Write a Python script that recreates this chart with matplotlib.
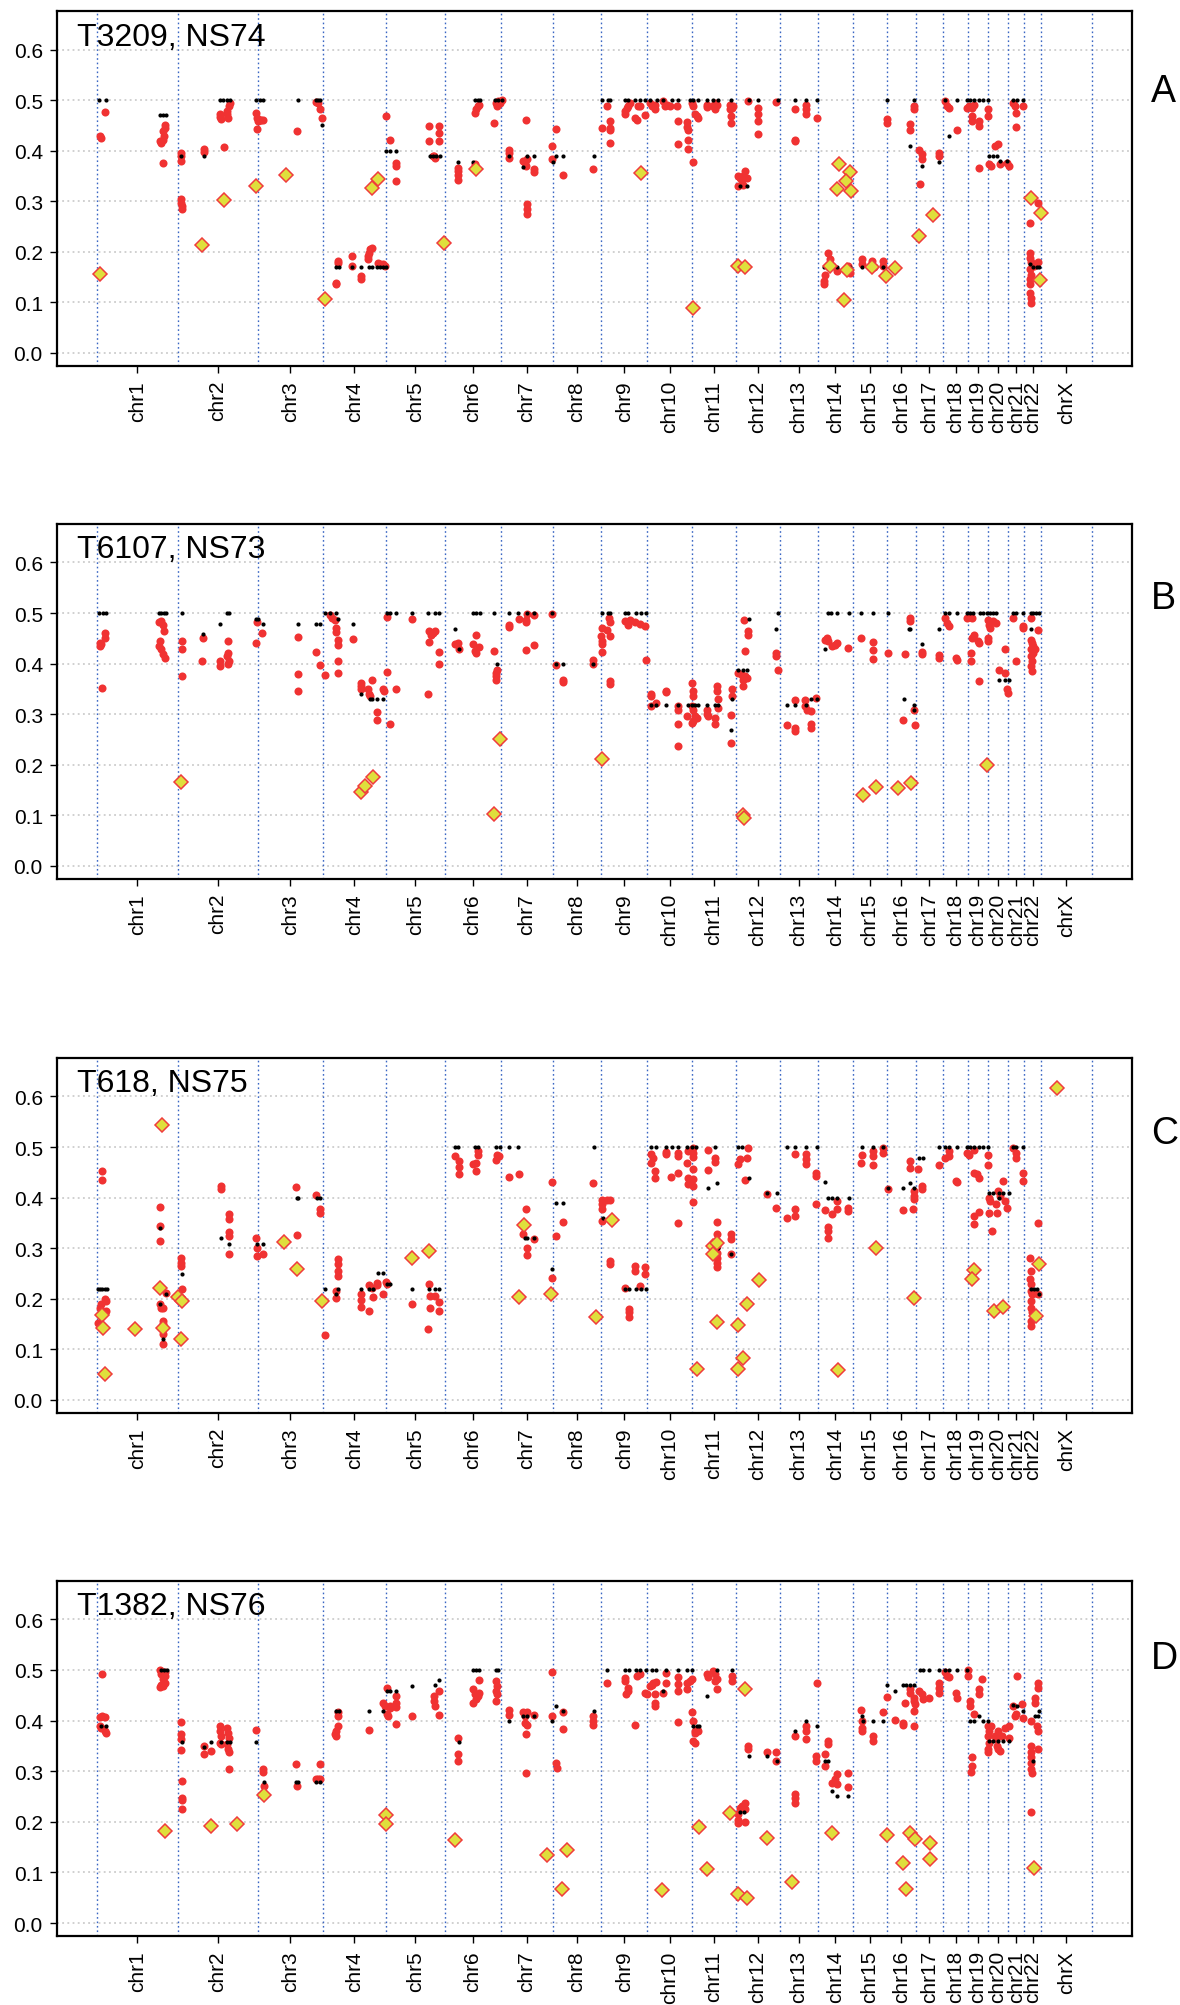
import numpy as np
import matplotlib
matplotlib.use("Agg")
import matplotlib.pyplot as plt

plt.rcParams["font.family"] = ["Liberation Sans", "DejaVu Sans"]

# hg19 chromosome lengths (Mb)
CHROMS = ["chr1", "chr2", "chr3", "chr4", "chr5", "chr6", "chr7", "chr8", "chr9",
          "chr10", "chr11", "chr12", "chr13", "chr14", "chr15", "chr16", "chr17",
          "chr18", "chr19", "chr20", "chr21", "chr22", "chrX"]
CHROM_LEN = [249.25, 243.2, 198.0, 191.15, 180.9, 171.1, 159.1, 146.4, 141.2,
             135.5, 135.0, 133.85, 115.2, 107.3, 102.5, 90.35, 81.2, 78.1, 59.1,
             63.0, 48.1, 51.3, 155.3]

PANEL_TITLES = ["T3209, NS74", "T6107, NS73", "T618, NS75", "T1382, NS76"]
PANEL_TAGS = ["A", "B", "C", "D"]
Y_TICKS = [0.0, 0.1, 0.2, 0.3, 0.4, 0.5, 0.6]

# ---- Panel A: (genome position Mb, allele fraction) ----
A_red = [(13,0.425),(10,0.43),(26,0.477),
 (193,0.419),(198,0.416),(203,0.422),(205,0.429),(203,0.439),(208,0.445),(210,0.45),(203,0.375),
 (257,0.396),(257,0.389),(257,0.379),(259,0.304),(259,0.297),(262,0.29),(262,0.285),
 (327,0.404),(327,0.397),
 (376,0.472),(378,0.467),(381,0.463),(397,0.478),(399,0.472),(402,0.465),(405,0.488),(407,0.495),(388,0.407),
 (486,0.474),(490,0.465),(493,0.458),(498,0.461),(503,0.461),(508,0.46),(490,0.443),
 (613,0.439),(671,0.496),(676,0.495),(681,0.482),(688,0.465),
 (729,0.139),(729,0.136),(737,0.182),(737,0.178),(778,0.192),(778,0.172),(806,0.152),(806,0.147),
 (829,0.192),(832,0.198),(834,0.205),(839,0.208),(829,0.186),(859,0.178),(864,0.175),(875,0.175),(880,0.172),
 (882,0.468),(895,0.422),(913,0.375),(913,0.37),(913,0.341),
 (1015,0.449),(1015,0.419),(1046,0.449),(1046,0.435),(1046,0.419),(1029,0.389),(1032,0.386),(1025,0.389),
 (1104,0.366),(1104,0.36),(1104,0.353),(1104,0.342),(1154,0.373),
 (1154,0.475),(1159,0.482),(1164,0.488),(1168,0.491),
 (1213,0.455),(1218,0.495),(1222,0.488),(1226,0.498),(1231,0.495),(1236,0.501),
 (1258,0.402),(1258,0.396),(1258,0.386),(1310,0.46),(1302,0.379),(1307,0.376),(1312,0.383),(1310,0.37),
 (1312,0.294),(1312,0.284),(1312,0.274),(1335,0.363),(1335,0.358),
 (1388,0.409),(1388,0.384),(1403,0.443),(1424,0.353),(1515,0.363),
 (1541,0.445),(1556,0.489),(1566,0.458),(1566,0.445),(1566,0.442),(1566,0.416),(1612,0.478),(1612,0.472),
 (1617,0.485),(1622,0.488),(1627,0.495),(1642,0.465),(1648,0.46),(1653,0.488),(1658,0.488),(1674,0.47),
 (1688,0.495),(1693,0.488),(1703,0.491),(1703,0.482),(1729,0.498),(1734,0.488),(1739,0.491),(1749,0.488),
 (1770,0.488),(1775,0.459),(1775,0.414),(1800,0.457),(1800,0.448),(1805,0.441),(1805,0.421),(1805,0.404),(1820,0.378),
 (1815,0.495),(1820,0.488),(1826,0.472),(1831,0.468),(1836,0.465),(1861,0.491),(1861,0.487),(1881,0.488),
 (1887,0.482),(1887,0.495),(1892,0.491),(1932,0.491),(1932,0.482),(1934,0.468),(1934,0.455),(1937,0.485),(1942,0.488),
 (1958,0.35),(1963,0.346),(1968,0.343),(1973,0.35),(1978,0.36),(1983,0.346),(1958,0.33),(1973,0.333),
 (1988,0.498),(2019,0.485),(2019,0.472),(2019,0.458),(2019,0.433),(2073,0.496),
 (2131,0.482),(2131,0.422),(2131,0.419),(2164,0.491),(2164,0.482),(2164,0.472),(2197,0.465),
 (2220,0.142),(2220,0.136),(2222,0.155),(2232,0.198),(2238,0.185),(2243,0.172),(2258,0.162),(2293,0.172),(2299,0.159),
 (2334,0.185),(2334,0.175),(2365,0.182),(2370,0.169),(2400,0.182),(2400,0.172),
 (2412,0.462),(2412,0.454),(2482,0.452),(2482,0.442),(2492,0.488),(2492,0.483),
 (2510,0.402),(2517,0.393),(2517,0.384),(2512,0.335),(2571,0.395),(2571,0.389),
 (2588,0.498),(2594,0.488),(2599,0.485),(2624,0.442),
 (2655,0.485),(2660,0.488),(2670,0.485),(2675,0.491),(2670,0.468),(2670,0.458),(2693,0.458),(2693,0.449),
 (2718,0.482),(2718,0.468),(2693,0.366),
 (2721,0.373),(2728,0.37),(2741,0.409),(2751,0.414),(2756,0.373),(2777,0.376),(2782,0.37),
 (2795,0.495),(2802,0.488),(2805,0.475),(2805,0.447),(2825,0.488),
 (2848,0.258),(2848,0.198),(2848,0.188),(2850,0.179),(2848,0.165),(2850,0.155),(2848,0.146),(2848,0.136),
 (2848,0.119),(2850,0.109),(2850,0.099),(2860,0.172),(2873,0.297),(2873,0.179)]

A_black = [(8,0.5),(28,0.5),(193,0.47),(203,0.47),(211,0.47),(259,0.39),(327,0.39),
 (376,0.5),(386,0.5),(397,0.5),(407,0.5),(486,0.5),(498,0.5),(508,0.5),(615,0.5),(671,0.5),(676,0.5),(681,0.5),(688,0.45),
 (729,0.17),(739,0.17),(778,0.17),(808,0.17),(832,0.17),(839,0.17),(856,0.17),(864,0.17),(875,0.17),(882,0.17),
 (883,0.4),(895,0.4),(913,0.4),
 (1017,0.39),(1027,0.39),(1037,0.39),(1048,0.39),(1104,0.378),(1149,0.378),(1154,0.5),(1164,0.5),(1170,0.5),
 (1215,0.5),(1226,0.5),(1236,0.5),(1258,0.389),(1312,0.389),(1335,0.389),(1302,0.368),(1391,0.378),(1403,0.389),
 (1424,0.389),(1517,0.389),(1541,0.5),(1561,0.5),(1566,0.5),(1612,0.5),(1622,0.5),(1642,0.5),(1658,0.5),(1673,0.5),
 (1688,0.5),(1709,0.5),(1729,0.5),(1754,0.5),(1775,0.5),(1810,0.5),(1820,0.5),(1836,0.5),(1861,0.5),(1881,0.5),
 (1897,0.5),(1935,0.5),(1963,0.33),(1985,0.33),(1991,0.5),(2019,0.5),(2080,0.5),
 (2131,0.5),(2164,0.5),(2197,0.5),(2220,0.17),(2243,0.17),(2258,0.17),(2297,0.17),(2334,0.17),(2370,0.17),(2400,0.17),
 (2412,0.5),(2482,0.409),(2492,0.5),(2517,0.37),(2571,0.378),(2588,0.5),(2624,0.5),(2599,0.429),
 (2655,0.5),(2665,0.5),(2675,0.5),(2692,0.5),(2705,0.5),(2718,0.5),(2721,0.389),(2736,0.389),(2746,0.389),
 (2756,0.379),(2777,0.379),(2797,0.5),(2807,0.5),(2827,0.5),(2848,0.175),(2858,0.17),(2868,0.17),(2876,0.17)]

A_diamond = [(11,0.157),(323,0.214),(389,0.302),(485,0.331),(578,0.353),(697,0.106),(839,0.326),(859,0.345),
 (1059,0.217),(1157,0.364),(1660,0.355),(1820,0.088),(1958,0.171),(1978,0.17),
 (2266,0.374),(2299,0.358),(2285,0.34),(2258,0.325),(2302,0.32),(2238,0.172),(2288,0.164),(2280,0.105),
 (2365,0.169),(2408,0.153),(2436,0.167),(2509,0.231),(2550,0.272),(2851,0.306),(2881,0.277),(2878,0.144)]

# ---- Panel B ----
B_red = [(10,0.441),(12,0.434),(15,0.438),(25,0.461),(25,0.451),(18,0.351),
 (191,0.482),(198,0.485),(203,0.477),(205,0.464),(191,0.434),(198,0.428),(203,0.418),(208,0.411),(193,0.444),
 (261,0.444),(261,0.429),(261,0.375),(325,0.451),(323,0.406),(376,0.405),(376,0.396),(402,0.444),(402,0.421),
 (402,0.4),(397,0.414),(405,0.405),
 (491,0.482),(506,0.461),(486,0.441),(615,0.452),(615,0.38),(615,0.345),(671,0.423),(681,0.398),(697,0.377),
 (712,0.497),(717,0.49),(727,0.487),(730,0.47),(730,0.462),(737,0.447),(737,0.436),(737,0.405),(737,0.382),(783,0.449),
 (806,0.362),(806,0.355),(806,0.349),(829,0.349),(832,0.34),(839,0.368),(834,0.336),(857,0.304),(857,0.289),
 (875,0.35),(878,0.345),(885,0.383),(895,0.281),(913,0.35),(885,0.493),
 (961,0.488),(1015,0.464),(1019,0.457),(1025,0.461),(1032,0.464),(1015,0.442),(1046,0.422),(1046,0.4),(1012,0.34),
 (1093,0.439),(1103,0.441),(1106,0.428),
 (1157,0.457),(1149,0.439),(1154,0.424),(1159,0.42),(1168,0.433),(1213,0.424),(1222,0.388),(1218,0.382),(1218,0.375),(1218,0.368),
 (1259,0.477),(1259,0.472),(1288,0.488),(1310,0.487),(1310,0.482),(1312,0.499),(1335,0.497),(1310,0.426),(1334,0.436),
 (1388,0.499),(1403,0.398),(1424,0.368),(1424,0.363),(1515,0.407),(1515,0.4),
 (1564,0.49),(1566,0.482),(1541,0.47),(1539,0.454),(1541,0.444),(1541,0.438),(1541,0.422),(1556,0.467),(1566,0.455),
 (1566,0.366),(1566,0.359),(1612,0.484),(1622,0.477),(1627,0.487),(1642,0.482),(1658,0.478),(1673,0.474),(1676,0.408),
 (1690,0.34),(1690,0.336),(1690,0.316),(1706,0.322),(1737,0.345),(1737,0.343),(1775,0.316),(1775,0.309),(1775,0.28),
 (1775,0.237),(1800,0.296),(1815,0.362),(1820,0.345),(1820,0.336),
 (1815,0.316),(1820,0.309),(1826,0.296),(1818,0.286),(1815,0.283),(1833,0.293),(1861,0.309),(1861,0.301),(1866,0.296),
 (1887,0.293),(1887,0.28),(1892,0.355),(1892,0.345),(1897,0.329),(1897,0.313),(1937,0.349),(1937,0.336),(1934,0.299),(1934,0.243),
 (1958,0.382),(1968,0.378),(1973,0.368),(1978,0.375),(1983,0.372),(1973,0.355),(1975,0.487),(1978,0.424),(1988,0.464),
 (1988,0.457),(2072,0.421),(2072,0.414),(2080,0.388),
 (2105,0.278),(2131,0.273),(2131,0.266),(2179,0.28),(2179,0.273),(2131,0.328),(2161,0.328),(2161,0.316),(2166,0.309),
 (2179,0.306),(2195,0.332),
 (2222,0.447),(2227,0.451),(2232,0.444),(2243,0.434),(2253,0.437),(2258,0.441),(2293,0.431),(2332,0.451),(2368,0.442),
 (2368,0.426),(2368,0.409),(2413,0.42),
 (2467,0.418),(2461,0.288),(2482,0.49),(2482,0.484),(2494,0.309),(2497,0.278),
 (2517,0.422),(2517,0.418),(2571,0.416),(2571,0.411),
 (2588,0.49),(2594,0.48),(2599,0.475),(2622,0.411),(2624,0.408),
 (2655,0.49),(2665,0.493),(2670,0.451),(2675,0.457),(2690,0.444),(2693,0.441),(2667,0.42),(2667,0.405),(2692,0.365),(2670,0.49),
 (2718,0.487),(2721,0.477),(2726,0.47),(2736,0.484),(2744,0.48),(2718,0.451),(2718,0.444),(2754,0.388),(2771,0.382),
 (2777,0.349),(2780,0.342),(2771,0.429),(2804,0.405),
 (2797,0.49),(2825,0.474),(2825,0.47),
 (2850,0.49),(2850,0.447),(2853,0.441),(2858,0.434),(2850,0.428),(2856,0.421),(2850,0.414),(2853,0.405),(2850,0.395),
 (2853,0.385),(2873,0.466),(2863,0.428)]

B_black = [(8,0.5),(20,0.5),(28,0.5),(191,0.5),(198,0.5),(205,0.5),(213,0.5),(261,0.5),(325,0.459),(376,0.478),
 (398,0.5),(405,0.5),(486,0.488),(493,0.488),(508,0.478),(615,0.478),(671,0.478),(683,0.478),(697,0.5),(712,0.5),
 (730,0.5),(737,0.488),(783,0.478),(806,0.339),(834,0.329),(839,0.329),(857,0.329),(875,0.329),(885,0.5),(895,0.5),
 (915,0.5),(961,0.5),
 (1012,0.5),(1032,0.5),(1046,0.5),(1093,0.468),(1106,0.428),(1149,0.5),(1159,0.5),(1170,0.5),(1213,0.5),(1222,0.399),
 (1259,0.5),(1287,0.5),(1312,0.5),(1335,0.5),(1388,0.5),(1403,0.399),(1424,0.399),(1515,0.399),(1541,0.5),(1561,0.5),
 (1566,0.5),(1612,0.5),(1622,0.5),(1645,0.5),(1661,0.5),(1675,0.5),(1690,0.319),(1706,0.319),(1737,0.319),(1775,0.319),
 (1803,0.319),(1815,0.319),(1826,0.319),(1836,0.319),(1861,0.319),(1887,0.319),(1897,0.319),(1937,0.329),(1934,0.268),
 (1958,0.388),(1973,0.388),(1983,0.388),(1990,0.488),(2072,0.468),(2080,0.5),(2105,0.319),
 (2131,0.319),(2164,0.319),(2180,0.329),(2197,0.329),(2232,0.5),(2240,0.5),(2258,0.5),(2296,0.5),(2332,0.5),(2368,0.5),
 (2413,0.5),(2222,0.429),(2463,0.329),(2477,0.468),(2482,0.468),(2492,0.319),(2495,0.309),(2519,0.439),(2571,0.468),
 (2588,0.5),(2599,0.5),(2624,0.5),(2655,0.5),(2665,0.5),(2673,0.5),(2695,0.5),(2705,0.5),(2716,0.5),(2726,0.5),
 (2736,0.5),(2744,0.5),(2754,0.368),(2771,0.368),(2782,0.368),(2797,0.5),(2805,0.5),(2827,0.5),(2850,0.5),(2858,0.5),
 (2866,0.5),(2876,0.5),(2850,0.468)]

B_diamond = [(259,0.166),(808,0.146),(820,0.158),(844,0.176),(1212,0.103),(1232,0.251),(1541,0.212),(1973,0.1),
 (1975,0.094),(2337,0.14),(2378,0.155),(2444,0.153),(2485,0.164),(2717,0.199)]

# ---- Panel C ----
C_red = [(18,0.453),(18,0.434),(10,0.182),(15,0.189),(25,0.199),(28,0.196),(30,0.176),(5,0.151),
 (193,0.382),(193,0.344),(193,0.314),(193,0.189),(198,0.182),(203,0.182),(203,0.156),(203,0.15),(203,0.13),(203,0.111),(211,0.212),
 (259,0.281),(259,0.271),(259,0.265),(262,0.219),(381,0.423),(381,0.416),(405,0.367),(405,0.357),(405,0.331),(405,0.324),(405,0.289),
 (486,0.321),(490,0.3),(490,0.285),(508,0.288),(607,0.42),(613,0.326),(671,0.405),(681,0.377),(681,0.37),
 (697,0.128),(730,0.215),(730,0.202),(737,0.278),(737,0.268),(737,0.255),(737,0.245),
 (806,0.209),(806,0.197),(806,0.184),(831,0.227),(831,0.176),(839,0.222),(842,0.204),(856,0.232),(856,0.227),(875,0.21),
 (883,0.234),(887,0.229),(961,0.19),
 (1015,0.229),(1017,0.206),(1032,0.206),(1017,0.182),(1046,0.193),(1046,0.176),(1012,0.14),
 (1093,0.482),(1105,0.472),(1105,0.46),(1105,0.446),(1149,0.467),(1159,0.469),(1157,0.453),(1164,0.492),(1164,0.484),
 (1218,0.475),(1222,0.485),(1229,0.482),(1259,0.44),(1288,0.446),
 (1310,0.377),(1302,0.327),(1312,0.301),(1312,0.286),(1334,0.318),
 (1388,0.431),(1388,0.24),(1403,0.324),(1424,0.352),(1515,0.428),
 (1541,0.395),(1541,0.387),(1541,0.377),(1546,0.393),(1556,0.395),(1566,0.395),(1541,0.354),(1566,0.275),(1566,0.268),
 (1612,0.221),(1624,0.179),(1624,0.174),(1624,0.164),(1642,0.265),(1642,0.255),(1658,0.225),(1674,0.262),(1674,0.248),
 (1690,0.486),(1698,0.479),(1690,0.469),(1703,0.453),(1703,0.439),(1737,0.49),(1737,0.487),(1775,0.489),(1775,0.483),
 (1752,0.44),(1775,0.449),(1775,0.35),(1800,0.469),(1805,0.492),
 (1820,0.499),(1820,0.489),(1820,0.48),(1820,0.456),(1805,0.439),(1820,0.436),(1805,0.426),(1820,0.423),(1820,0.391),
 (1864,0.495),(1864,0.454),(1887,0.479),(1887,0.471),
 (1892,0.352),(1892,0.327),(1892,0.314),(1892,0.304),(1894,0.291),(1894,0.281),(1894,0.271),(1894,0.262),
 (1935,0.327),(1935,0.318),(1935,0.288),
 (1988,0.499),(1983,0.479),(1958,0.466),(1963,0.476),(1978,0.434),(2046,0.408),(2072,0.38),(2105,0.359),
 (2131,0.486),(2164,0.486),(2164,0.476),(2164,0.466),(2195,0.449),(2195,0.443),(2195,0.387),(2131,0.377),(2131,0.364),
 (2222,0.375),(2243,0.367),(2258,0.393),(2258,0.377),(2232,0.342),(2232,0.334),(2232,0.321),(2293,0.38),(2293,0.373),
 (2334,0.484),(2332,0.469),(2368,0.492),(2368,0.482),(2368,0.464),(2400,0.499),(2400,0.489),(2413,0.416),
 (2461,0.375),(2482,0.472),(2482,0.459),(2492,0.413),(2492,0.403),(2492,0.397),(2490,0.378),(2507,0.457),
 (2517,0.423),(2517,0.416),(2571,0.464),
 (2588,0.478),(2599,0.492),(2599,0.482),(2622,0.433),(2624,0.43),
 (2655,0.489),(2660,0.485),(2675,0.494),(2675,0.449),(2685,0.446),(2693,0.439),(2675,0.364),(2675,0.347),(2693,0.371),
 (2718,0.485),(2718,0.465),
 (2721,0.399),(2726,0.393),(2744,0.388),(2751,0.413),(2756,0.403),(2766,0.433),(2771,0.393),(2777,0.38),(2721,0.37),
 (2746,0.37),(2731,0.333),
 (2797,0.499),(2805,0.489),(2805,0.479),(2825,0.449),(2825,0.432),
 (2848,0.281),(2850,0.255),(2848,0.238),(2850,0.229),(2850,0.215),(2853,0.209),(2863,0.212),(2873,0.209),(2850,0.196),
 (2850,0.182),(2853,0.173),(2850,0.156),(2850,0.146),(2873,0.35)]

C_black = [(5,0.22),(12,0.22),(18,0.22),(25,0.22),(32,0.22),(195,0.339),(195,0.19),(203,0.15),(203,0.12),(211,0.209),
 (262,0.248),(381,0.32),(405,0.309),(488,0.309),(508,0.309),(610,0.399),(615,0.399),(674,0.399),(683,0.399),(697,0.22),
 (730,0.209),(737,0.22),(808,0.22),(832,0.22),(842,0.22),(859,0.25),(875,0.25),(885,0.23),(895,0.23),(961,0.22),
 (1015,0.22),(1032,0.22),(1046,0.22),(1093,0.5),(1103,0.5),(1154,0.5),(1164,0.5),(1220,0.5),(1231,0.5),(1259,0.5),
 (1287,0.5),(1307,0.32),(1314,0.32),(1335,0.32),(1403,0.389),(1424,0.389),(1388,0.258),(1517,0.5),(1544,0.359),
 (1612,0.22),(1624,0.22),(1645,0.22),(1661,0.22),(1675,0.22),(1690,0.5),(1706,0.5),(1737,0.5),(1754,0.5),(1775,0.5),
 (1800,0.5),(1815,0.5),(1828,0.5),(1887,0.5),(1864,0.418),(1892,0.429),(1897,0.3),(1935,0.289),(1958,0.5),(1968,0.5),
 (1991,0.438),(2046,0.409),(2075,0.409),(2105,0.5),
 (2131,0.5),(2164,0.5),(2197,0.5),(2222,0.43),(2232,0.4),(2243,0.4),(2258,0.4),(2296,0.4),(2334,0.5),(2368,0.5),
 (2400,0.5),(2413,0.418),(2461,0.418),(2482,0.429),(2492,0.418),(2510,0.479),(2520,0.479),(2571,0.5),(2588,0.5),
 (2599,0.5),(2624,0.5),(2655,0.5),(2665,0.5),(2675,0.5),(2693,0.5),(2705,0.5),(2718,0.5),(2721,0.41),(2736,0.41),
 (2754,0.41),(2766,0.41),(2782,0.41),(2754,0.399),(2797,0.5),(2805,0.5),(2827,0.5),(2850,0.219),(2860,0.219),
 (2870,0.219),(2876,0.209)]

C_diamond = [(18,0.168),(20,0.142),(25,0.051),(117,0.14),(201,0.543),(195,0.222),(203,0.143),(249,0.204),(262,0.196),
 (259,0.121),(573,0.313),(610,0.258),(689,0.196),(961,0.281),
 (1014,0.294),(1304,0.345),(1289,0.204),(1386,0.209),(1523,0.164),(1573,0.355),(1831,0.061),(1881,0.304),(1892,0.31),
 (1881,0.289),(1894,0.153),(1958,0.148),(1985,0.19),(1958,0.061),(1973,0.083),(2021,0.237),
 (2263,0.059),(2377,0.3),(2495,0.202),(2678,0.256),(2670,0.238),(2738,0.176),(2766,0.184),(2875,0.269),(2866,0.166),
 (2929,0.616)]

# ---- Panel D ----
D_red = [(18,0.491),(10,0.406),(18,0.408),(25,0.406),(10,0.389),(25,0.379),(28,0.375),(15,0.386),
 (193,0.5),(198,0.491),(203,0.482),(208,0.488),(208,0.475),(203,0.468),(198,0.471),(193,0.467),(210,0.495),
 (259,0.398),(259,0.373),(259,0.364),(259,0.342),(262,0.28),(262,0.248),(262,0.243),(262,0.225),(327,0.35),(327,0.333),(348,0.339),
 (376,0.389),(378,0.379),(381,0.37),(376,0.356),(381,0.353),(397,0.386),(402,0.376),(405,0.366),(399,0.353),(402,0.343),
 (405,0.337),(405,0.304),
 (486,0.381),(508,0.304),(508,0.298),(510,0.271),(607,0.314),(613,0.271),(669,0.285),(676,0.284),(683,0.285),(681,0.315),
 (727,0.373),(730,0.379),(737,0.389),(737,0.409),(737,0.416),(732,0.37),(831,0.381),
 (875,0.435),(880,0.429),(885,0.412),(890,0.409),(895,0.425),(885,0.465),(895,0.428),(913,0.449),(913,0.434),(913,0.426),(913,0.393),
 (961,0.409),(1029,0.449),(1029,0.439),(1032,0.429),(1046,0.459),(1046,0.41),
 (1104,0.366),(1104,0.333),(1104,0.32),(1147,0.462),(1154,0.452),(1164,0.449),(1149,0.435),(1157,0.442),(1168,0.455),
 (1168,0.48),(1218,0.478),(1222,0.468),(1218,0.458),(1222,0.452),(1218,0.439),
 (1258,0.421),(1258,0.41),(1302,0.416),(1307,0.408),(1312,0.417),(1307,0.396),(1312,0.391),(1310,0.373),(1310,0.296),(1335,0.41),
 (1388,0.496),(1388,0.408),(1403,0.317),(1405,0.307),(1424,0.417),(1424,0.383),(1515,0.409),(1515,0.399),(1515,0.391),
 (1556,0.475),(1612,0.483),(1612,0.478),(1615,0.452),(1622,0.465),(1622,0.459),(1648,0.488),(1658,0.491),(1642,0.391),
 (1673,0.455),(1678,0.452),
 (1688,0.468),(1698,0.475),(1707,0.476),(1693,0.471),(1703,0.452),(1703,0.435),(1703,0.429),(1729,0.455),(1737,0.493),
 (1737,0.475),(1775,0.485),(1775,0.472),(1775,0.459),(1775,0.397),(1800,0.475),(1800,0.462),(1810,0.478),(1815,0.482),
 (1815,0.416),(1820,0.399),(1824,0.379),(1826,0.376),(1820,0.36),(1826,0.356),(1836,0.379),(1831,0.383),(1861,0.491),
 (1866,0.485),(1881,0.498),(1887,0.491),(1892,0.482),(1887,0.478),(1894,0.463),(1937,0.488),(1937,0.478),
 (1958,0.198),(1963,0.228),(1968,0.231),(1978,0.237),(1978,0.225),(1958,0.215),(1978,0.2),(1958,0.204),(1988,0.35),
 (1988,0.343),(2044,0.338),(2073,0.337),(2073,0.32),
 (2131,0.37),(2131,0.254),(2131,0.248),(2131,0.238),(2164,0.389),(2164,0.379),(2164,0.364),(2197,0.474),
 (2195,0.33),(2195,0.32),(2222,0.333),(2222,0.31),(2232,0.36),(2232,0.353),(2243,0.277),(2253,0.284),(2258,0.294),
 (2260,0.274),(2293,0.297),(2293,0.269),
 (2332,0.42),(2334,0.399),(2334,0.386),(2334,0.379),(2368,0.37),(2368,0.36),(2400,0.416),
 (2412,0.447),(2436,0.401),(2461,0.396),(2461,0.391),(2467,0.434),(2482,0.462),(2482,0.455),(2492,0.445),(2492,0.439),
 (2497,0.432),(2492,0.419),(2492,0.389),
 (2510,0.458),(2517,0.452),(2520,0.442),(2538,0.445),(2571,0.474),(2571,0.465),(2571,0.455),
 (2588,0.495),(2594,0.488),(2599,0.485),(2622,0.455),(2624,0.445),
 (2657,0.5),(2657,0.488),(2663,0.439),(2663,0.429),(2670,0.327),(2670,0.31),(2667,0.298),(2693,0.462),(2693,0.452),
 (2700,0.482),(2677,0.412),
 (2718,0.389),(2721,0.379),(2718,0.37),(2721,0.356),(2718,0.343),(2718,0.337),(2728,0.389),(2741,0.37),(2744,0.363),
 (2746,0.35),(2751,0.343),(2756,0.34),(2751,0.379),(2761,0.37),(2771,0.386),(2782,0.389),(2782,0.366),
 (2797,0.429),(2802,0.409),(2805,0.412),(2807,0.488),(2825,0.404),(2822,0.432),
 (2850,0.399),(2850,0.35),(2850,0.337),(2850,0.327),(2850,0.317),(2850,0.304),(2853,0.297),(2863,0.445),(2863,0.435),
 (2868,0.389),(2873,0.379),(2873,0.475),(2873,0.465),(2873,0.343),(2850,0.22)]

D_black = [(13,0.389),(28,0.389),(198,0.5),(205,0.5),(214,0.5),(262,0.358),(327,0.348),(348,0.358),(381,0.358),
 (397,0.358),(407,0.358),(486,0.358),(510,0.279),(608,0.279),(615,0.279),(671,0.279),(683,0.279),(730,0.419),(740,0.419),
 (832,0.419),(875,0.419),(885,0.458),(895,0.458),(913,0.458),(961,0.468),
 (1032,0.47),(1046,0.48),(1107,0.358),(1149,0.5),(1159,0.5),(1168,0.5),(1218,0.5),(1226,0.5),(1259,0.399),(1302,0.409),
 (1312,0.409),(1335,0.409),(1388,0.399),(1403,0.429),(1424,0.419),(1517,0.419),(1558,0.5),(1612,0.5),(1624,0.5),
 (1645,0.5),(1658,0.5),(1675,0.5),(1693,0.5),(1706,0.5),(1737,0.5),(1775,0.5),(1802,0.5),(1815,0.5),(1729,0.458),
 (1820,0.389),(1831,0.389),(1839,0.389),(1894,0.5),(1937,0.5),(1861,0.449),(1963,0.22),(1975,0.22),(1991,0.33),
 (2046,0.33),(2075,0.32),
 (2131,0.379),(2164,0.399),(2197,0.389),(2222,0.32),(2232,0.32),(2243,0.261),(2258,0.25),(2293,0.25),(2334,0.409),
 (2337,0.399),(2368,0.399),(2400,0.399),(2412,0.47),(2436,0.458),(2461,0.47),(2469,0.47),(2482,0.47),(2492,0.47),
 (2512,0.5),(2520,0.5),(2540,0.5),(2571,0.5),(2588,0.5),(2599,0.5),(2624,0.5),(2655,0.5),(2665,0.399),(2675,0.399),
 (2692,0.409),(2705,0.399),(2718,0.399),(2721,0.36),(2736,0.36),(2751,0.36),(2764,0.36),(2782,0.36),(2797,0.43),
 (2807,0.429),(2827,0.419),(2856,0.32),(2863,0.409),(2873,0.409),(2876,0.419)]

D_diamond = [(208,0.182),(349,0.192),(429,0.196),(510,0.253),(883,0.213),(883,0.196),
 (1094,0.165),(1375,0.135),(1434,0.144),(1421,0.067),(1724,0.065),(1837,0.19),(1861,0.106),(1932,0.217),(1958,0.058),
 (1985,0.05),(1978,0.463),(2046,0.169),(2120,0.082),
 (2243,0.177),(2410,0.173),(2459,0.118),(2469,0.067),(2482,0.177),(2497,0.167),(2543,0.159),(2543,0.126),(2860,0.108)]

PANELS = [(A_red, A_black, A_diamond), (B_red, B_black, B_diamond),
          (C_red, C_black, C_diamond), (D_red, D_black, D_diamond)]

# ---- style ----
RED = "#f03232"
DIA_FACE = "#dfdf3c"
DIA_EDGE = "#f03c3c"
VLINE = "#3a66c4"
GRID = "#c4c4c4"

W, H = 1180, 2006
fig = plt.figure(figsize=(W / 100, H / 100), dpi=100)

# axes boxes in pixels: (left, top, right, bottom)
boxes = [(56.7, 12.3, 1131.7, 367.0),
         (56.7, 525.0, 1131.7, 880.0),
         (56.7, 1059.0, 1131.7, 1414.0),
         (56.7, 1581.7, 1131.7, 1937.3)]
tag_baselines = [101.7, 609.3, 1144.3, 1669.3]

bounds = np.concatenate([[0.0], np.cumsum(CHROM_LEN)])
centers = (bounds[:-1] + bounds[1:]) / 2
total = bounds[-1]
pad = 0.04 * total

for i, (red, black, dia) in enumerate(PANELS):
    l, t, r, b = boxes[i]
    ax = fig.add_axes([l / W, 1 - b / H, (r - l) / W, (b - t) / H])

    # grid
    for yv in Y_TICKS:
        ax.axhline(yv, color=GRID, lw=1.1, ls=(0, (1.2, 2.2)), zorder=1)
    for xv in bounds:
        ax.axvline(xv, color=VLINE, lw=1.0, ls=(0, (1.2, 2.0)), zorder=1)

    rx, ry = zip(*red)
    ax.plot(rx, ry, "o", ms=5.8, mfc=RED, mec=RED, mew=0, ls="none", zorder=3)
    bx, by = zip(*black)
    ax.plot(bx, by, "o", ms=3.0, mfc="black", mec="black", mew=0, ls="none", zorder=4)
    dx, dy = zip(*dia)
    ax.plot(dx, dy, "D", ms=7.2, mfc=DIA_FACE, mec=DIA_EDGE, mew=1.1, ls="none", zorder=5)

    ax.set_xlim(-pad, total + pad)
    ax.set_ylim(-0.026, 0.676)
    ax.set_yticks(Y_TICKS)
    ax.set_yticklabels([f"{v:.1f}" for v in Y_TICKS])
    ax.set_xticks(centers)
    ax.set_xticklabels(CHROMS, rotation=90)
    ax.tick_params(axis="both", direction="out", length=5, width=1.0, labelsize=15, pad=5)
    for s in ax.spines.values():
        s.set_linewidth(1.6)

    ax.text(0.0189, 0.906, PANEL_TITLES[i], transform=ax.transAxes, fontsize=23,
            ha="left", va="baseline", zorder=6)
    fig.text(1151 / W, 1 - tag_baselines[i] / H, PANEL_TAGS[i], fontsize=27,
             ha="left", va="baseline")

fig.savefig("out.png", dpi=100)
